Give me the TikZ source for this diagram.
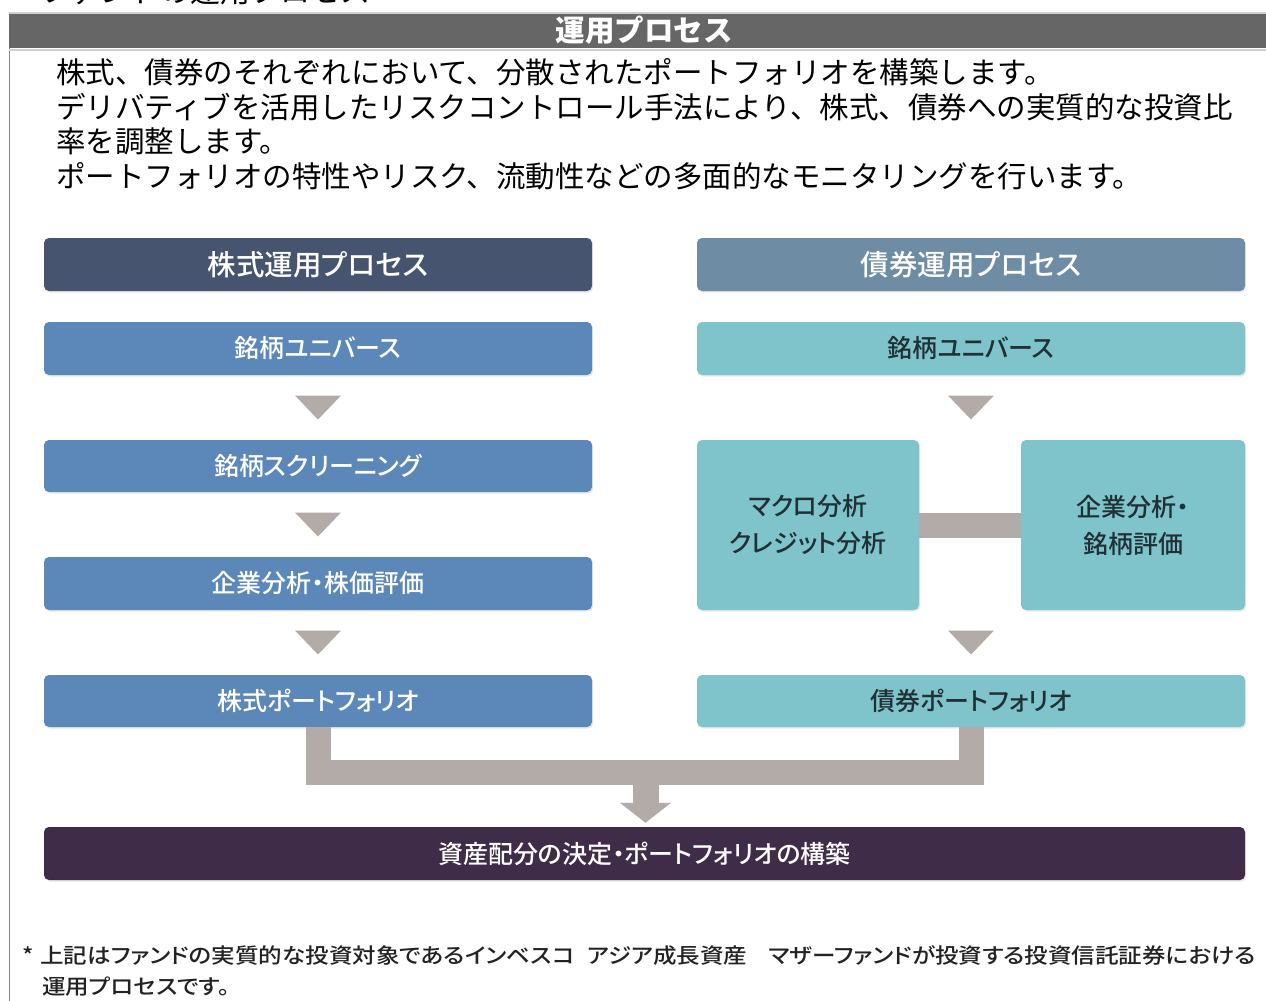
\documentclass[tikz,border=0pt]{standalone}
\usepackage{fontspec}
\setmainfont{Noto Sans CJK JP}
\newfontfamily\boxfont{Noto Sans CJK JP Medium}[RawFeature={+palt}]
\newfontfamily\footfont{Noto Sans CJK JP Medium}[RawFeature={+palt}]
\usepackage{graphicx}
\usetikzlibrary{calc,arrows.meta,shadows}
\definecolor{hdrgray}{HTML}{666666}
\definecolor{hdrline}{HTML}{CFCFCF}
\definecolor{framec}{HTML}{8A8A8A}
\definecolor{shead}{HTML}{47546F}
\definecolor{bhead}{HTML}{6E8CA3}
\definecolor{sblue}{HTML}{5B87B9}
\definecolor{bteal}{HTML}{80C4CB}
\definecolor{pipec}{HTML}{B3ABA7}
\definecolor{finc}{HTML}{3E2C48}
\definecolor{tealtxt}{HTML}{1F3036}
\definecolor{foottxt}{HTML}{222222}
\newsavebox\fnbox
\newcommand\fnfont{\footfont\fontsize{21}{21}\selectfont}
\newcommand\fnlineone{*\hspace{6pt}上記はファンドの実質的な投資対象であるインベスコ\hspace{0.55em}アジア成長資産\hspace{0.9em}マザーファンドが投資する投資信託証券における}
\newcommand\fnscale{\sbox\fnbox{\fnfont\fnlineone}\edef\fnw{\the\wd\fnbox}\pgfmathsetmacro\fnsc{1233/\fnw}}
\newcommand\dtri[1]{\fill[pipec] #1 ++(-23,-12) -- ++(46,0) -- ++(-23,24) -- cycle;}
\begin{document}
\begin{tikzpicture}[x=1pt,y=-1pt,
  box/.style={rounded corners=5pt,minimum width=548pt,minimum height=53pt,inner sep=0pt,align=center,
    font=\boxfont\fontsize{25}{37}\selectfont,
    drop shadow={shadow xshift=1.2pt,shadow yshift=-1.5pt,opacity=0.18}},
  headbox/.style={box,font=\boxfont\fontsize{28.5}{30}\selectfont,text=white},
  stockbox/.style={box,fill=sblue,text=white},
  bondbox/.style={box,fill=bteal,text=tealtxt},
  pipe/.style={draw=pipec,line width=25pt},
  body/.style={anchor=west,inner sep=0pt,font=\fontsize{29.5}{30}\selectfont},
  foot/.style={anchor=west,inner sep=0pt,text=foottxt,font=\fnfont},
]
\useasboundingbox (0,0) rectangle (1266,1001);
\clip (0,0) rectangle (1266,1001);
\fill[white] (0,0) rectangle (1266,1001);

% cut-off title above the frame
\node[anchor=base west,inner sep=0pt,font=\fontsize{30}{30}\selectfont] (toptitle) at (40,2) {ファンドの運用プロセス};

% frame and header
\draw[framec,line width=1.5pt] (9.5,13) -- (9.5,1001);
\fill[hdrgray] (9,13) rectangle (1266,48);
\draw[hdrline,line width=1.5pt] (9,13) -- (1266,13);
\draw[hdrline,line width=2pt] (9,49.5) -- (1266,49.5);
\node[inner sep=0pt,text=white,font=\fontsize{29.5}{30}\selectfont\bfseries] (hdr) at (644,30.5) {運用プロセス};

% body text
\node[body] (l1) at (56,72) {株式、債券のそれぞれにおいて、分散されたポートフォリオを構築します。};
\node[body] (l2) at (56,107) {デリバティブを活用したリスクコントロール手法により、株式、債券への実質的な投資比};
\node[body] (l3) at (56,141) {率を調整します。};
\node[body] (l4) at (56,176) {ポートフォリオの特性やリスク、流動性などの多面的なモニタリングを行います。};

% left column
\node[headbox,fill=shead] (sh) at (318,264.5) {株式運用プロセス};
\node[stockbox] (su) at (318,348.5) {銘柄ユニバース};
\node[stockbox,minimum height=52pt] (ss) at (318,466) {銘柄スクリーニング};
\node[stockbox] (sa) at (318,583.5) {企業分析・株価評価};
\node[stockbox,minimum height=52pt] (sp) at (318,701) {株式ポートフォリオ};

% right column
\node[headbox,fill=bhead] (bh) at (971,264.5) {債券運用プロセス};
\node[bondbox] (bu) at (971,348.5) {銘柄ユニバース};
\node[bondbox,minimum width=222pt,minimum height=170pt] (bm) at (808,525) {マクロ分析\\クレジット分析};
\node[bondbox,minimum width=224pt,minimum height=170pt] (bc) at (1133,525) {企業分析・\\銘柄評価};
\node[bondbox,minimum height=52pt] (bp) at (971,701) {債券ポートフォリオ};

% final box
\node[box,minimum width=1201pt,fill=finc,text=white,font=\boxfont\fontsize{25}{30}\selectfont] (fin) at (644.5,853.5) {資産配分の決定・ポートフォリオの構築};

% connectors
\draw[pipe] (bm.east) -- (bc.west);
\dtri{($(su.south)!0.5!(ss.north)$)}
\dtri{($(ss.south)!0.5!(sa.north)$)}
\dtri{($(sa.south)!0.5!(sp.north)$)}
\dtri{($(bu.south)!0.5!(bu.south |- bm.north)$)}
\dtri{($(bp.north |- bm.south)!0.5!(bp.north)$)}

\coordinate (join) at (645.5,772);
\draw[pipe] (sp.south) |- (join) -| (bp.south);
\draw[draw=pipec,line width=26pt,shorten >=4pt,-{Triangle[width=50pt,length=20pt]}] (join) -- (join |- fin.north);

% footnote
\node[foot] (fn1) at (22,955) {\fnscale\scalebox{\fnsc}[1]{\usebox\fnbox}};
\node[foot] (fn2) at (42,987) {\fnscale\scalebox{\fnsc}[1]{\fnfont 運用プロセスです。}};
\end{tikzpicture}
\end{document}
